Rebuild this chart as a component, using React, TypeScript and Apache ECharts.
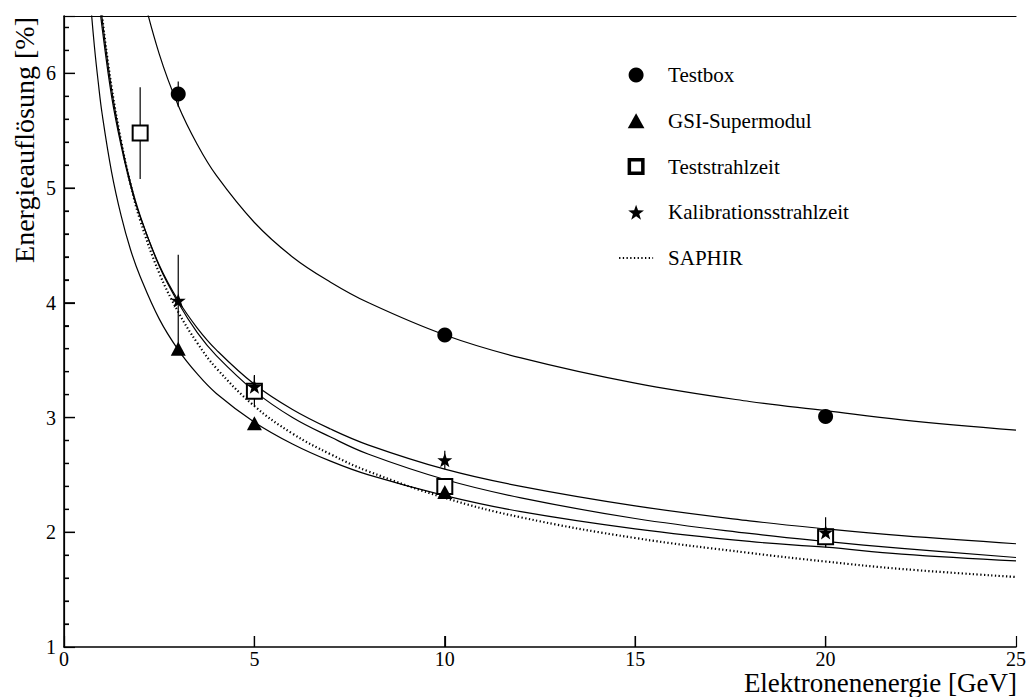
import React, { useEffect, useRef } from "react";
import * as echarts from "echarts";

// Energy grid of the fit curves [GeV]
const fitE = [0.6, 0.7, 0.8, 0.9, 1, 1.25, 1.5, 1.75, 2, 2.5, 3, 3.5, 4, 5, 6, 7, 8, 10, 12, 15, 18, 20, 22, 25];
// Fit curves [%]
const fitTestbox = [null, null, null, null, null, null, null, 7.19, 6.78, 6.17, 5.72, 5.38, 5.11, 4.70, 4.40, 4.18, 4.0, 3.72, 3.52, 3.30, 3.14, 3.06, 2.98, 2.89];
const fitKalib = [8.03, 7.49, 7.06, 6.70, 6.40, 5.80, 5.37, 5.02, 4.75, 4.33, 4.02, 3.78, 3.59, 3.29, 3.07, 2.90, 2.76, 2.55, 2.40, 2.23, 2.10, 2.03, 1.97, 1.90];
const fitStrahl = [8.18, 7.62, 7.17, 6.79, 6.48, 5.86, 5.40, 5.04, 4.76, 4.32, 4.0, 3.74, 3.54, 3.23, 3.0, 2.83, 2.68, 2.46, 2.30, 2.12, 1.99, 1.92, 1.86, 1.78];
const fitGSI = [7.07, 6.61, 6.23, 5.92, 5.65, 5.14, 4.76, 4.46, 4.23, 3.86, 3.59, 3.38, 3.21, 2.96, 2.77, 2.62, 2.50, 2.32, 2.18, 2.03, 1.92, 1.87, 1.81, 1.75];
const saphir = [8.4, 7.8, 7.2, 6.85, 6.50, 5.88, 5.41, 5.03, 4.72, 4.26, 3.92, 3.65, 3.43, 3.10, 2.86, 2.68, 2.53, 2.30, 2.13, 1.95, 1.82, 1.745, 1.68, 1.61];

// Measurements
const testboxE = [3, 10, 20];
const testboxVal = [5.82, 3.72, 3.01];
const testboxErr = [0.11, 0.04, 0.04];

const gsiE = [3, 5, 10];
const gsiVal = [3.6, 2.95, 2.35];
const gsiErr = [0.03, 0.03, 0.03];

const beamE = [2, 5, 10, 20];
const beamVal = [5.48, 3.23, 2.4, 1.96];
const beamErr = [0.4, 0.13, 0.06, 0.09];

const calE = [3, 5, 10, 20];
const calVal = [4.02, 3.27, 2.63, 2.0];
const calErr = [0.4, 0.1, 0.08, 0.13];

// Axis ticks
const xMajorTicks = [5, 10, 15, 20];
const yMajorTicks = [2, 3, 4, 5, 6];
const yMinorTicks = [1.2, 1.4, 1.6, 1.8, 2.2, 2.4, 2.6, 2.8, 3.2, 3.4, 3.6, 3.8, 4.2, 4.4, 4.6, 4.8, 5.2, 5.4, 5.6, 5.8, 6.2, 6.4];

const FONT = "Liberation Serif";
const STAR =
  "path://M0,-10 L2.35,-3.24 L9.51,-3.09 L3.8,1.24 L5.88,8.09 L0,4 L-5.88,8.09 L-3.8,1.24 L-9.51,-3.09 L-2.35,-3.24 Z";
const TRIANGLE = "path://M0,-10 L10,8 L-10,8 Z";
const OPEN_SQUARE = "path://M0,0 H14 V14 H0 Z M1.4,1.4 V12.6 H12.6 V1.4 Z";

const pairs = (xs: number[], ys: (number | null)[]) => xs.map((x, i) => [x, ys[i]]);
const triples = (xs: number[], ys: number[], es: number[]) => xs.map((x, i) => [x, ys[i], es[i]]);

export default function App() {
  const ref = useRef<HTMLDivElement>(null);

  useEffect(() => {
    if (!ref.current) return;
    const chart = echarts.init(ref.current, null, { renderer: "svg" });

    const fitLine = (name: string, ys: (number | null)[]) => ({
      name,
      type: "line",
      data: pairs(fitE, ys),
      smooth: 0.4,
      showSymbol: false,
      symbol: "none",
      clip: true,
      lineStyle: { color: "#000", width: 1.2 },
      z: 2,
      silent: true,
    });

    const errData = [
      ...triples(testboxE, testboxVal, testboxErr),
      ...triples(gsiE, gsiVal, gsiErr),
      ...triples(beamE, beamVal, beamErr),
      ...triples(calE, calVal, calErr),
    ];

    // tick marks: [x, y, length, direction(0 = horizontal from y axis, 1 = vertical from x axis)]
    const tickData = [
      ...xMajorTicks.map((v) => [v, 1, 11, 1]),
      ...yMajorTicks.map((v) => [0, v, 11, 0]),
      ...yMinorTicks.map((v) => [0, v, 5, 0]),
    ];

    const frameAxis = {
      axisLine: { show: true, lineStyle: { color: "#000", width: 1.2 } },
      axisTick: { show: false },
      axisLabel: { show: false },
      splitLine: { show: false },
    };

    const option: any = {
      animation: false,
      backgroundColor: "#fff",
      grid: {
        left: 64,
        right: 13,
        top: 16,
        bottom: 50,
        show: false,
        containLabel: false,
      },
      xAxis: [
        {
          type: "value",
          position: "bottom",
          min: 0,
          max: 25,
          interval: 5,
          axisLine: { show: true, onZero: false, lineStyle: { color: "#000", width: 1.5 } },
          axisTick: { show: true, inside: true, length: 11, lineStyle: { color: "#000", width: 1.2 } },
          splitLine: { show: false },
          axisLabel: { color: "#000", fontSize: 20, fontFamily: FONT, margin: 2 },
          z: 5,
        },
        { type: "value", position: "top", min: 0, max: 25, interval: 5, ...frameAxis },
      ],
      yAxis: [
        {
          type: "value",
          position: "left",
          min: 1,
          max: 6.5,
          interval: 1,
          axisLine: { show: true, onZero: false, lineStyle: { color: "#000", width: 1.5 } },
          axisTick: { show: true, inside: true, length: 11, lineStyle: { color: "#000", width: 1.2 } },
          minorTick: { show: true, splitNumber: 5, length: 5, lineStyle: { color: "#000", width: 1.2 } },
          splitLine: { show: false },
          minorSplitLine: { show: false },
          axisLabel: { color: "#000", fontSize: 20, fontFamily: FONT, margin: 8, showMaxLabel: false },
          z: 5,
        },
        { type: "value", position: "right", min: 1, max: 6.5, interval: 1, ...frameAxis },
      ],
      legend: {
        data: [
          { name: "Testbox", icon: "circle" },
          { name: "GSI-Supermodul", icon: TRIANGLE },
          { name: "Teststrahlzeit", icon: OPEN_SQUARE },
          { name: "Kalibrationsstrahlzeit", icon: STAR },
          { name: "SAPHIR", itemStyle: { opacity: 0 } },
        ],
        orient: "vertical",
        left: 613,
        top: 59,
        itemWidth: 34,
        itemHeight: 15,
        itemGap: 23.75,
        symbolKeepAspect: true,
        selectedMode: false,
        lineStyle: { width: 2.2, type: [1.3, 2.4] },
        textStyle: { color: "#000", fontSize: 21, fontFamily: FONT, lineHeight: 22, padding: [0, 0, 0, 10] },
      },
      graphic: [
        {
          type: "text",
          x: 24,
          y: 17,
          rotation: Math.PI / 2,
          style: {
            text: "Energieauflösung [%]",
            fontSize: 28,
            fontFamily: FONT,
            fill: "#000",
            align: "right",
            verticalAlign: "middle",
            textAlign: "right",
            textVerticalAlign: "middle",
          },
        },
        {
          type: "text",
          x: 1017,
          y: 683,
          style: {
            text: "Elektronenenergie [GeV]",
            fontSize: 27,
            fontFamily: FONT,
            fill: "#000",
            align: "right",
            verticalAlign: "middle",
            textAlign: "right",
            textVerticalAlign: "middle",
          },
        },
      ],
      series: [
        {
          name: "ticks",
          type: "custom",
          data: tickData,
          encode: { x: 0, y: 1 },
          clip: false,
          z: 10,
          silent: true,
          renderItem: (params: any, api: any) => {
            const x = api.value(0);
            const y = api.value(1);
            const len = api.value(2);
            const vertical = api.value(3) === 1;
            const p = api.coord([x, y]);
            return {
              type: "line",
              shape: vertical
                ? { x1: p[0], y1: p[1], x2: p[0], y2: p[1] - len }
                : { x1: p[0], y1: p[1], x2: p[0] + len, y2: p[1] },
              style: { stroke: "#000", lineWidth: 1.3 },
            };
          },
        },
        fitLine("fitTestbox", fitTestbox),
        fitLine("fitKalib", fitKalib),
        fitLine("fitStrahl", fitStrahl),
        fitLine("fitGSI", fitGSI),
        {
          name: "SAPHIR",
          type: "line",
          data: pairs(fitE, saphir),
          smooth: 0.4,
          showSymbol: false,
          symbol: "none",
          clip: true,
          itemStyle: { color: "#000" },
          lineStyle: { color: "#000", width: 2.2, type: [1.3, 2.4] },
          z: 2,
          silent: true,
        },
        {
          name: "errors",
          type: "custom",
          data: errData,
          encode: { x: 0, y: 1 },
          clip: true,
          z: 3,
          silent: true,
          renderItem: (params: any, api: any) => {
            const x = api.value(0);
            const y = api.value(1);
            const e = api.value(2);
            const p1 = api.coord([x, y - e]);
            const p2 = api.coord([x, y + e]);
            return {
              type: "line",
              shape: { x1: p1[0], y1: p1[1], x2: p2[0], y2: p2[1] },
              style: { stroke: "#000", lineWidth: 1.2 },
            };
          },
        },
        {
          name: "Testbox",
          type: "scatter",
          data: pairs(testboxE, testboxVal),
          symbol: "circle",
          symbolSize: 15,
          itemStyle: { color: "#000", opacity: 1 },
          z: 4,
        },
        {
          name: "Teststrahlzeit",
          type: "scatter",
          data: pairs(beamE, beamVal),
          symbol: "emptyRect",
          symbolSize: 15,
          itemStyle: { color: "#000", borderColor: "#000", borderWidth: 1.3, opacity: 1 },
          z: 5,
        },
        {
          name: "GSI-Supermodul",
          type: "scatter",
          data: pairs(gsiE, gsiVal),
          symbol: "triangle",
          symbolSize: [15, 14],
          itemStyle: { color: "#000", opacity: 1 },
          z: 6,
        },
        {
          name: "Kalibrationsstrahlzeit",
          type: "scatter",
          data: pairs(calE, calVal),
          symbol: STAR,
          symbolSize: 15,
          symbolKeepAspect: true,
          itemStyle: { color: "#000", opacity: 1 },
          z: 7,
        },
      ],
    };

    chart.setOption(option);
    return () => chart.dispose();
  }, []);

  return <div ref={ref} style={{ width: 1029, height: 697, position: "absolute", left: 0, top: 0 }} />;
}
